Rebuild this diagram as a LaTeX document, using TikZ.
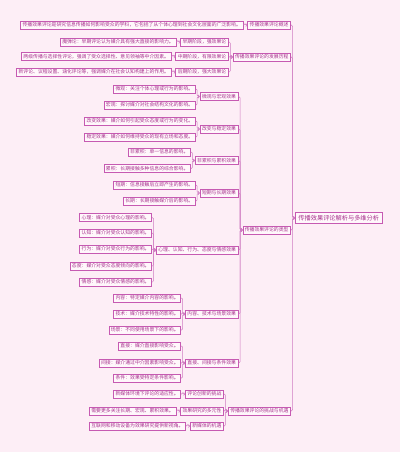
\documentclass[tikz,border=0pt]{standalone}
\usepackage{fontspec}
\setmainfont{Noto Sans CJK SC}
\usetikzlibrary{arrows.meta, calc}
\definecolor{mmbg}{HTML}{FDEEF6}
\definecolor{mmline}{HTML}{C65AB2}
\definecolor{mmlink}{HTML}{D07CC2}
\definecolor{mmfill}{HTML}{FFF7FB}
\definecolor{mmtext}{HTML}{A8338E}
\tikzset{
  leaf/.style={draw=mmline, fill=mmfill, text=mmtext, line width=0.55pt,
    inner xsep=2pt, inner ysep=0.5pt, minimum height=8pt,
    font=\fontsize{4.85}{5.5}\selectfont},
  branch/.style={leaf, line width=0.65pt},
  topic/.style={leaf, line width=0.9pt, inner xsep=3pt, minimum height=11pt,
    font=\fontsize{6.2}{7}\selectfont},
  link/.style={draw=mmlink, line width=0.5pt, rounded corners=1.2pt,
    -{Straight Barb[length=1.2pt, width=3pt]}}
}
% node placed left of its parent, at height #4
\newcommand{\mmnode}[5][leaf]{%
  \node[#1, anchor=east, xshift=-4.2pt] (#2) at (#3.west |- 0,#4) {#5};}
\newcommand{\mmlink}[2]{%
  \draw[link] (#1.east) -| ($(#2.west)+(-2.5,0)$) -- (#2.west);}

\begin{document}
\begin{tikzpicture}[x=1pt, y=-1pt]
\useasboundingbox[fill=mmbg] (0,0) rectangle (400,452);
% root
\node[topic, anchor=west] (root) at (295,218) {传播效果评论解析与多维分析};
% level 1
\mmnode[branch]{gaishu}{root}{25}{传播效果评论概述}
\mmnode[branch]{fazhan}{root}{57}{传播效果评论的发展历程}
\mmnode[branch]{leixing}{root}{230}{传播效果评论的类型}
\mmnode[branch]{tiaozhan}{root}{411}{传播效果评论的挑战与机遇}
% overview
\mmnode{gaishuA}{gaishu}{25}{传播效果评论是研究信息传播如何影响受众的学科，它包括了从个体心理到社会文化层面的广泛影响。}
% history
\mmnode[branch]{zaoqi}{fazhan}{42}{早期阶段，强效果论}
\mmnode[branch]{zhongqi}{fazhan}{56.5}{中期阶段，有限效果论}
\mmnode[branch]{houqi}{fazhan}{72}{后期阶段，强大效果论}
\mmnode{zaoqiA}{zaoqi}{42}{魔弹论：早期评论认为媒介具有强大直接的影响力。}
\mmnode{zhongqiA}{zhongqi}{56.5}{两级传播与选择性评论，强调了受众选择性、意见领袖等中介因素。}
\mmnode{houqiA}{houqi}{72}{新评论、议程设置、涵化评论等，强调媒介在社会认知构建上的作用。}
% types
\mmnode[branch]{weiguan}{leixing}{96.5}{微观与宏观效果}
\mmnode[branch]{gaibian}{leixing}{129}{改变与稳定效果}
\mmnode[branch]{leiji}{leixing}{160.5}{非累积与累积效果}
\mmnode[branch]{duanqi}{leixing}{193}{短期与长期效果}
\mmnode[branch]{xinli}{leixing}{250}{心理、认知、行为、态度与情感效果}
\mmnode[branch]{neirong}{leixing}{314}{内容、技术与场景效果}
\mmnode[branch]{zhijie}{leixing}{363}{直接、间接与条件效果}
\mmnode{weiguanA}{weiguan}{89}{微观：关注个体心理或行为的影响。}
\mmnode{weiguanB}{weiguan}{105}{宏观：探讨媒介对社会结构文化的影响。}
\mmnode{gaibianA}{gaibian}{121}{改变效果：媒介如何引起受众态度或行为的变化。}
\mmnode{gaibianB}{gaibian}{137}{稳定效果：媒介如何维持受众的现有立场和态度。}
\mmnode{leijiA}{leiji}{152}{非累积：单一信息的影响。}
\mmnode{leijiB}{leiji}{168.5}{累积：长期接触多种信息的综合影响。}
\mmnode{duanqiA}{duanqi}{185}{短期：信息接触后立即产生的影响。}
\mmnode{duanqiB}{duanqi}{201}{长期：长期接触媒介后的影响。}
\mmnode{xinliA}{xinli}{217.5}{心理：媒介对受众心理的影响。}
\mmnode{xinliB}{xinli}{233}{认知：媒介对受众认知的影响。}
\mmnode{xinliC}{xinli}{249}{行为：媒介对受众行为的影响。}
\mmnode{xinliD}{xinli}{266}{态度：媒介对受众态度倾向的影响。}
\mmnode{xinliE}{xinli}{282}{情感：媒介对受众情感的影响。}
\mmnode{neirongA}{neirong}{298}{内容：特定媒介内容的影响。}
\mmnode{neirongB}{neirong}{314}{技术：媒介技术特性的影响。}
\mmnode{neirongC}{neirong}{330}{场景：不同使用场景下的影响。}
\mmnode{zhijieA}{zhijie}{346}{直接：媒介直接影响受众。}
\mmnode{zhijieB}{zhijie}{363}{间接：媒介通过中介因素影响受众。}
\mmnode{zhijieC}{zhijie}{378}{条件：效果受特定条件影响。}
% challenges
\mmnode[branch]{chuangxin}{tiaozhan}{394}{评论创新的挑战}
\mmnode[branch]{duoyuan}{tiaozhan}{411}{效果研究的多元性}
\mmnode[branch]{jiyu}{tiaozhan}{426}{新媒体的机遇}
\mmnode{chuangxinA}{chuangxin}{394}{新媒体环境下评论的适应性。}
\mmnode{duoyuanA}{duoyuan}{411}{需要更多关注长期、宏观、累积效果。}
\mmnode{jiyuA}{jiyu}{426}{互联网和移动设备为效果研究提供新视角。}
% connectors
\foreach \c/\p in {gaishu/root, fazhan/root, leixing/root, tiaozhan/root,
    gaishuA/gaishu, zaoqi/fazhan, zhongqi/fazhan, houqi/fazhan,
    zaoqiA/zaoqi, zhongqiA/zhongqi, houqiA/houqi,
    weiguan/leixing, gaibian/leixing, leiji/leixing, duanqi/leixing,
    xinli/leixing, neirong/leixing, zhijie/leixing,
    weiguanA/weiguan, weiguanB/weiguan, gaibianA/gaibian, gaibianB/gaibian,
    leijiA/leiji, leijiB/leiji, duanqiA/duanqi, duanqiB/duanqi,
    xinliA/xinli, xinliB/xinli, xinliC/xinli, xinliD/xinli, xinliE/xinli,
    neirongA/neirong, neirongB/neirong, neirongC/neirong,
    zhijieA/zhijie, zhijieB/zhijie, zhijieC/zhijie,
    chuangxin/tiaozhan, duoyuan/tiaozhan, jiyu/tiaozhan,
    chuangxinA/chuangxin, duoyuanA/duoyuan, jiyuA/jiyu}
  {\mmlink{\c}{\p}}
\end{tikzpicture}
\end{document}
